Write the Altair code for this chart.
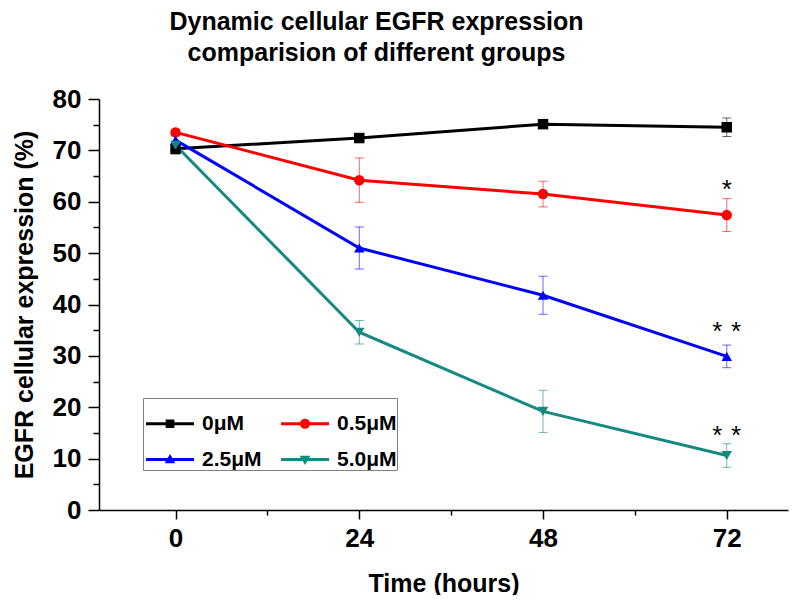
import altair as alt
import pandas as pd

FONT = "Liberation Sans"

times = [0, 24, 48, 72]
groups = ["0μM", "0.5μM", "2.5μM", "5.0μM"]
colors = ["#000000", "#ff0000", "#0000ff", "#148a82"]
marker_shapes = ["square", "circle", "triangle-up", "triangle-down"]

mean_0 = [70.3, 72.4, 75.1, 74.5]
err_0 = [1.0, 0.6, 0.8, 1.8]
mean_05 = [73.5, 64.2, 61.5, 57.4]
err_05 = [0.6, 4.3, 2.5, 3.2]
mean_25 = [72.0, 51.0, 41.8, 29.9]
err_25 = [0.8, 4.1, 3.7, 2.2]
mean_50 = [71.0, 34.6, 19.2, 10.6]
err_50 = [0.5, 2.3, 4.1, 2.3]

star_labels = ["*", "*\u2004*", "*\u2004*"]
star_time = [72, 72, 72]
star_value = [63.3, 35.6, 15.4]

x_major = [0, 24, 48, 72]
x_minor = [12, 36, 60]
y_major = [0, 10, 20, 30, 40, 50, 60, 70, 80]
y_minor = [5, 15, 25, 35, 45, 55, 65, 75]

# legend symbols: a line segment with the marker on it (coordinates in [-1, 1])
legend_paths = [
    "M-0.88,-0.06H1V0.06H-0.88Z M-0.11,-0.17H0.23V0.17H-0.11Z",
    "M-0.88,-0.06H1V0.06H-0.88Z M0.26,0A0.2,0.2,0,1,1,-0.14,0A0.2,0.2,0,1,1,0.26,0Z",
    "M-0.88,-0.06H1V0.06H-0.88Z M0.06,-0.22L0.27,0.15L-0.15,0.15Z",
    "M-0.88,-0.06H1V0.06H-0.88Z M-0.15,-0.15L0.27,-0.15L0.06,0.22Z",
]

rows = []
for g, ms, es in zip(groups, [mean_0, mean_05, mean_25, mean_50], [err_0, err_05, err_25, err_50]):
    for t, m, e in zip(times, ms, es):
        rows.append({"group": g, "time": t, "mean": m, "lo": m - e, "hi": m + e})
df = pd.DataFrame(rows)
stars = pd.DataFrame({"label": star_labels, "time": star_time, "value": star_value})

W, H = 689, 411
x_scale = alt.Scale(domain=[-10, 80], nice=False, zero=False)
y_scale = alt.Scale(domain=[0, 80], nice=False, zero=False)
color_scale = alt.Scale(domain=groups, range=colors)

x_axis = alt.Axis(values=x_major, orient="bottom", title="Time (hours)", tickSize=9, labelPadding=6,
                  titleX=W / 2, titleY=81, titleBaseline="alphabetic", titleFontSize=25,
                  grid=False)
y_axis = alt.Axis(values=y_major, orient="left", title="EGFR cellular expression (%)", tickSize=11,
                  labelPadding=7, titleX=-67, titleY=H / 2, titleBaseline="alphabetic",
                  titleFontSize=25, grid=False)
x_axis_minor = alt.Axis(values=x_minor, orient="bottom", tickSize=5, labels=False, domain=False,
                        title=None, grid=False)
y_axis_minor = alt.Axis(values=y_minor, orient="left", tickSize=6, labels=False, domain=False,
                        title=None, grid=False)

base = alt.Chart(df)

errbars = base.mark_errorbar(ticks=True, size=9, thickness=1, opacity=0.6).encode(
    x=alt.X("time:Q", scale=x_scale, axis=None),
    y=alt.Y("lo:Q", scale=y_scale, axis=None),
    y2="hi:Q",
    color=alt.Color("group:N", scale=color_scale, legend=None),
)

lines = base.mark_line(strokeWidth=3).encode(
    x=alt.X("time:Q", scale=x_scale, axis=x_axis),
    y=alt.Y("mean:Q", scale=y_scale, axis=y_axis),
    color=alt.Color("group:N", scale=color_scale, legend=None),
)

points = base.mark_point(filled=True, size=110, opacity=1).encode(
    x=alt.X("time:Q", scale=x_scale, axis=None),
    y=alt.Y("mean:Q", scale=y_scale, axis=None),
    color=alt.Color("group:N", scale=color_scale, legend=None),
    shape=alt.Shape("group:N", scale=alt.Scale(domain=groups, range=marker_shapes), legend=None),
)

minor = base.mark_point(opacity=0).encode(
    x=alt.X("time:Q", scale=x_scale, axis=x_axis_minor),
    y=alt.Y("mean:Q", scale=y_scale, axis=y_axis_minor),
)

star_text = alt.Chart(stars).mark_text(
    font=FONT, fontSize=26, color="black", baseline="middle", align="center", dy=5
).encode(
    x=alt.X("time:Q", scale=x_scale, axis=None),
    y=alt.Y("value:Q", scale=y_scale, axis=None),
    text="label:N",
)

leg = alt.Legend(
    title=None, orient="none", legendX=44, legendY=299, columns=2, direction="horizontal",
    labelFont=FONT, labelFontSize=21, labelFontWeight="bold", labelColor="black",
    symbolSize=2600, symbolStrokeWidth=0, strokeColor="#808080", fillColor="white",
    padding=0, columnPadding=16, rowPadding=-5, labelOffset=8,
)

legend_layer = base.transform_filter("false").mark_point(filled=True, opacity=1).encode(
    x=alt.X("time:Q", scale=x_scale, axis=None),
    y=alt.Y("mean:Q", scale=y_scale, axis=None),
    color=alt.Color("group:N", scale=color_scale, legend=leg),
    shape=alt.Shape("group:N", scale=alt.Scale(domain=groups, range=legend_paths), legend=leg),
)

chart = alt.layer(errbars, lines, points, minor, star_text, legend_layer).resolve_scale(
    color="independent", shape="independent"
).resolve_axis(
    x="independent", y="independent"
).properties(
    width=W, height=H,
    title=alt.Title(
        ["Dynamic cellular EGFR expression", "comparision of different groups"],
        font=FONT, fontSize=25, fontWeight="bold", color="black",
        anchor="middle", dx=-67, offset=20, lineHeight=31,
    ),
    autosize=alt.AutoSizeParams(type="none"),
    padding={"left": 91, "top": 91, "right": 1, "bottom": 85},
).configure_view(stroke=None).configure_axis(
    labelFont=FONT, labelFontSize=26, labelFontWeight="bold", labelColor="black",
    titleFont=FONT, titleFontWeight="bold", titleColor="black",
    domainColor="black", domainWidth=1.5, tickColor="black", tickWidth=1.5,
)

chart.save("out.html", embed_options={"renderer": "svg", "actions": False})
